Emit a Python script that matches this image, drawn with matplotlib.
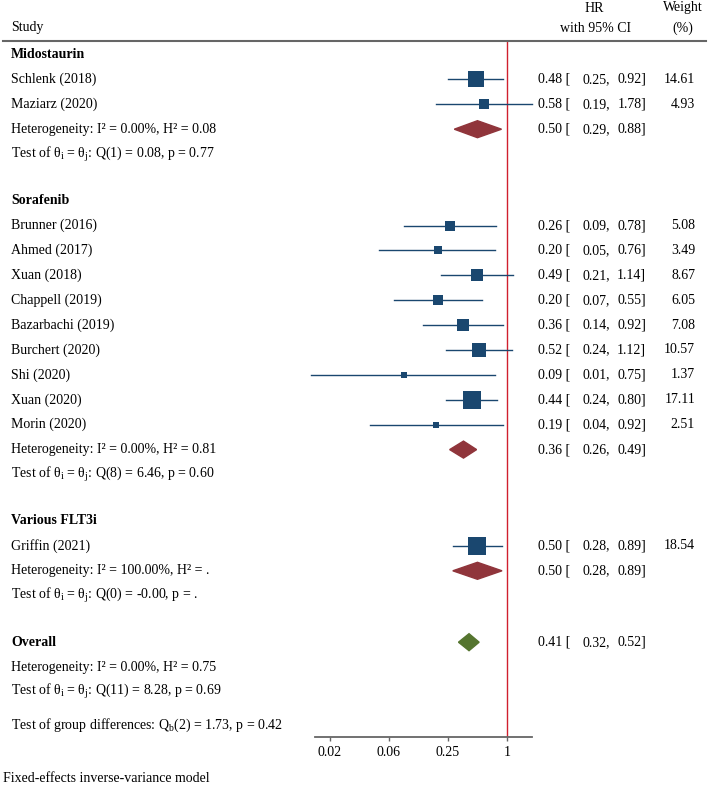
import matplotlib

matplotlib.use("Agg")
import matplotlib.pyplot as plt
import matplotlib.transforms as mtransforms
from matplotlib.lines import Line2D
from matplotlib.patches import Polygon

plt.rcParams["font.family"] = ["Liberation Serif", "DejaVu Serif"]
plt.rcParams["mathtext.fontset"] = "custom"
plt.rcParams["mathtext.rm"] = "Liberation Serif"
plt.rcParams["mathtext.it"] = "Liberation Serif:italic"

# ---- data -------------------------------------------------------------
groups = ["Midostaurin", "Sorafenib", "Various FLT3i"]
studies = [
    ["Schlenk (2018)", "Maziarz (2020)"],
    ["Brunner (2016)", "Ahmed (2017)", "Xuan (2018)", "Chappell (2019)",
     "Bazarbachi (2019)", "Burchert (2020)", "Shi (2020)", "Xuan (2020)", "Morin (2020)"],
    ["Griffin (2021)"],
]
hr = [[0.48, 0.58], [0.26, 0.20, 0.49, 0.20, 0.36, 0.52, 0.09, 0.44, 0.19], [0.50]]
ci_lo = [[0.25, 0.19], [0.09, 0.05, 0.21, 0.07, 0.14, 0.24, 0.01, 0.24, 0.04], [0.28]]
ci_hi = [[0.92, 1.78], [0.78, 0.76, 1.14, 0.55, 0.92, 1.12, 0.75, 0.80, 0.92], [0.89]]
weight = [[14.61, 4.93], [5.08, 3.49, 8.67, 6.05, 7.08, 10.57, 1.37, 17.11, 2.51], [18.54]]

group_hr = [0.50, 0.36, 0.50]
group_lo = [0.29, 0.26, 0.28]
group_hi = [0.88, 0.49, 0.89]
group_het = ["Heterogeneity: I² = 0.00%, H² = 0.08",
             "Heterogeneity: I² = 0.00%, H² = 0.81",
             "Heterogeneity: I² = 100.00%, H² = ."]
group_test = [r"Test of θ$_\mathrm{i}$ = θ$_\mathrm{j}$: Q(1) = 0.08, p = 0.77",
              r"Test of θ$_\mathrm{i}$ = θ$_\mathrm{j}$: Q(8) = 6.46, p = 0.60",
              r"Test of θ$_\mathrm{i}$ = θ$_\mathrm{j}$: Q(0) = -0.00, p = ."]

overall_hr, overall_lo, overall_hi = 0.41, 0.32, 0.52
overall_het = "Heterogeneity: I² = 0.00%, H² = 0.75"
overall_test = r"Test of θ$_\mathrm{i}$ = θ$_\mathrm{j}$: Q(11) = 8.28, p = 0.69"
group_diff = r"Test of group differences: Q$_\mathrm{b}$(2) = 1.73, p = 0.42"

tick_vals = [1 / 64, 1 / 16, 1 / 4, 1]
tick_labels = ["0.02", "0.06", "0.25", "1"]

# ---- layout (pixels) ---------------------------------------------------
W, H = 709, 786
PITCH, GAP = 24.9, 46.5
TOP, AXIS_Y = 41, 737
NAVY, MAROON, GREEN, RED = "#1a476f", "#90353b", "#55752f", "#d0202e"
FS = 10

fig = plt.figure(figsize=(W / 100, H / 100), dpi=100)
ax = fig.add_axes([315 / W, 1 - AXIS_Y / H, (532 - 315) / W, (AXIS_Y - TOP) / H])
ax.set_xscale("log")
ax.set_xlim(0.011, 1.8)
ax.set_ylim(AXIS_Y, TOP)
for s in ["top", "left", "right"]:
    ax.spines[s].set_visible(False)
ax.spines["bottom"].set_color("#666666")
ax.spines["bottom"].set_linewidth(1.3)
ax.set_yticks([])
ax.set_xticks(tick_vals)
ax.set_xticklabels(tick_labels)
ax.xaxis.set_minor_locator(matplotlib.ticker.NullLocator())
ax.tick_params(axis="x", length=3, width=1, color="#666666", pad=3.5, labelsize=FS)
ax.axvline(1, color=RED, lw=1, zorder=1)

tr = mtransforms.blended_transform_factory(fig.transFigure, ax.transData)


def txt(x, y, s, **kw):
    kw.setdefault("va", "center")
    kw.setdefault("fontsize", FS)
    ax.text(x / W, y, s, transform=tr, clip_on=False, **kw)


def ci_text(y, est, lo, hi, w=None):
    txt(538, y, f"{est:.2f} [")
    txt(610, y, f"{lo:.2f},", ha="right")
    txt(646, y, f"{hi:.2f}]", ha="right")
    if w is not None:
        txt(695, y, f"{w:.2f}", ha="right")


def diamond(y, est, lo, hi, color, h=8.5):
    pts = [(lo, y), (est, y - h), (hi, y), (est, y + h)]
    ax.add_patch(Polygon(pts, closed=True, color=color, zorder=3, clip_on=False))


# header
fig.text(11 / W, 1 - 28 / H, "Study", fontsize=FS, va="center")
fig.text(594 / W, 1 - 8 / H, "HR", fontsize=FS, va="center", ha="center")
fig.text(596 / W, 1 - 28 / H, "with 95% CI", fontsize=FS, va="center", ha="center")
fig.text(683 / W, 1 - 8 / H, "Weight", fontsize=FS, va="center", ha="center")
fig.text(683 / W, 1 - 28 / H, "(%)", fontsize=FS, va="center", ha="center")
fig.add_artist(Line2D([3 / W, 706 / W], [1 - TOP / H] * 2, color="#666666", lw=1.5,
                      transform=fig.transFigure))

y = 54.5
for g, name in enumerate(groups):
    txt(11, y, name, fontweight="bold")
    for i, st in enumerate(studies[g]):
        y += PITCH
        txt(11, y, st)
        ax.plot([ci_lo[g][i], ci_hi[g][i]], [y, y], color=NAVY, lw=1, zorder=2, clip_on=False)
        # square area proportional to study weight
        ax.scatter([hr[g][i]], [y], marker="s", s=10 * weight[g][i], color=NAVY,
                   zorder=3, clip_on=False, linewidths=0)
        ci_text(y, hr[g][i], ci_lo[g][i], ci_hi[g][i], weight[g][i])
    y += PITCH
    txt(11, y, group_het[g])
    diamond(y, group_hr[g], group_lo[g], group_hi[g], MAROON)
    ci_text(y, group_hr[g], group_lo[g], group_hi[g])
    y += PITCH
    txt(11, y, group_test[g])
    y += GAP

txt(11, y, "Overall", fontweight="bold")
diamond(y, overall_hr, overall_lo, overall_hi, GREEN)
ci_text(y, overall_hr, overall_lo, overall_hi)
y += PITCH
txt(11, y, overall_het)
y += PITCH
txt(11, y, overall_test)
y += 33
txt(11, y, group_diff)

fig.text(3 / W, 1 - 778 / H, "Fixed-effects inverse-variance model", fontsize=FS, va="center")

fig.savefig("out.png", dpi=100)
